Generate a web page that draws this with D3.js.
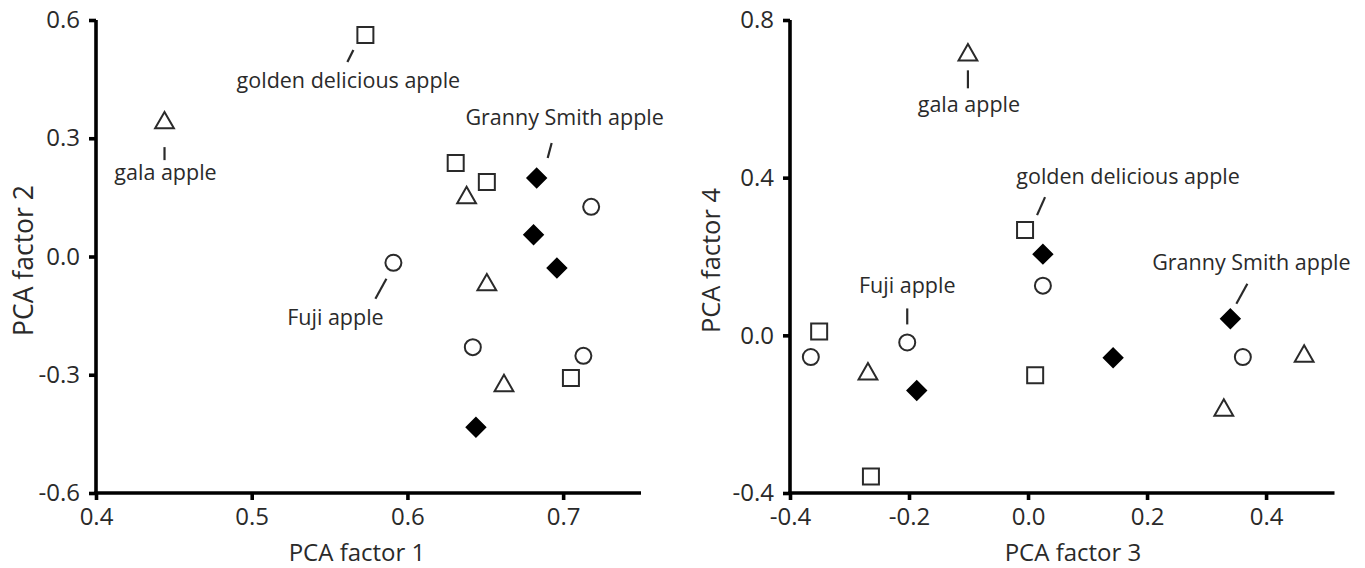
<!DOCTYPE html>
<html>
<head>
<meta charset="utf-8">
<script src="https://cdn.jsdelivr.net/npm/d3@7"></script>
<style>
  html, body { margin: 0; padding: 0; background: #fff; }
  svg { display: block; font-family: "Open Sans", sans-serif; }
  .axis path.domain, .axis .tick line { stroke: #000; stroke-width: 3.6px; }
</style>
</head>
<body>
<svg id="chart" width="1365" height="568"></svg>
<script>
// ---------- data (first point of each variety is the labelled one) ----------
const varieties = ["Fuji apple", "gala apple", "golden delicious apple", "Granny Smith apple"];

// Panel A: PCA factor 1 vs PCA factor 2
const fujiPC1   = [0.591, 0.718, 0.642, 0.713];
const fujiPC2   = [-0.016, 0.126, -0.230, -0.252];
const galaPC1   = [0.444, 0.638, 0.651, 0.662];
const galaPC2   = [0.346, 0.156, -0.065, -0.321];
const goldenPC1 = [0.573, 0.631, 0.651, 0.705];
const goldenPC2 = [0.562, 0.237, 0.189, -0.308];
const grannyPC1 = [0.683, 0.681, 0.696, 0.644];
const grannyPC2 = [0.199, 0.055, -0.029, -0.433];

// Panel B: PCA factor 3 vs PCA factor 4
const fujiPC3   = [-0.203, -0.365, 0.025, 0.361];
const fujiPC4   = [-0.018, -0.055, 0.126, -0.055];
const galaPC3   = [-0.101, -0.269, 0.464, 0.329];
const galaPC4   = [0.718, -0.091, -0.046, -0.183];
const goldenPC3 = [-0.005, -0.351, -0.264, 0.012];
const goldenPC4 = [0.267, 0.010, -0.358, -0.101];
const grannyPC3 = [0.340, 0.025, 0.143, -0.187];
const grannyPC4 = [0.042, 0.206, -0.057, -0.140];

// tick labels
const ticksPC1 = [0.4, 0.5, 0.6, 0.7];
const ticksPC2 = [-0.6, -0.3, 0.0, 0.3, 0.6];
const ticksPC3 = [-0.4, -0.2, 0.0, 0.2, 0.4];
const ticksPC4 = [-0.4, 0.0, 0.4, 0.8];

// ---------- layout / style ----------
const shapeOf = {"Fuji apple": "circle", "gala apple": "triangle",
                 "golden delicious apple": "square", "Granny Smith apple": "diamond"};
const ink = "#2a2a2a";

const panels = [
  {
    xs: [fujiPC1, galaPC1, goldenPC1, grannyPC1],
    ys: [fujiPC2, galaPC2, goldenPC2, grannyPC2],
    xDomain: [0.4, 0.75], xRange: [96, 641],
    yDomain: [-0.6, 0.6], yRange: [493, 20],
    xTicks: ticksPC1, yTicks: ticksPC2,
    xTitle: "PCA factor 1", yTitle: "PCA factor 2",
    xTitleX: 357, yTitleX: 33, yTitleSize: 26.5,
    // label leader offsets relative to labelled point: line (x1,y1,x2,y2), text (tx,ty)
    notes: {
      "Fuji apple":             {l: [-7, 16, -18, 36], t: [-58, 62]},
      "gala apple":             {l: [0, 27, 0, 40],    t: [1, 60]},
      "golden delicious apple": {l: [-12, 15, -18, 27], t: [-17, 53]},
      "Granny Smith apple":     {l: [15, -35, 11, -20], t: [28, -53]}
    }
  },
  {
    xs: [fujiPC3, galaPC3, goldenPC3, grannyPC3],
    ys: [fujiPC4, galaPC4, goldenPC4, grannyPC4],
    xDomain: [-0.4, 0.515], xRange: [790, 1334.5],
    yDomain: [-0.4, 0.8], yRange: [493, 20],
    xTicks: ticksPC3, yTicks: ticksPC4,
    xTitle: "PCA factor 3", yTitle: "PCA factor 4",
    xTitleX: 1073, yTitleX: 720, yTitleSize: 25.5,
    notes: {
      "Fuji apple":             {l: [0, -34, 0, -18],  t: [0, -49]},
      "gala apple":             {l: [0, 18, 0, 36],    t: [1, 60]},
      "golden delicious apple": {l: [20, -33, 12, -15], t: [103, -46]},
      "Granny Smith apple":     {l: [17, -35, 6, -15],  t: [21, -49]}
    }
  }
];

const svg = d3.select("#chart");

function markerPath(shape) {
  const p = d3.path();
  if (shape === "square") {
    const h = 8; p.rect(-h, -h, 2 * h, 2 * h);
  } else if (shape === "circle") {
    p.arc(0, 0, 8, 0, 2 * Math.PI);
  } else if (shape === "triangle") {
    const w = 9.4, ht = 8.2;
    p.moveTo(0, -ht); p.lineTo(w, ht); p.lineTo(-w, ht); p.closePath();
  } else {
    const d = 9.3;
    p.moveTo(0, -d); p.lineTo(d, 0); p.lineTo(0, d); p.lineTo(-d, 0); p.closePath();
  }
  return p.toString();
}

panels.forEach(P => {
  const x = d3.scaleLinear().domain(P.xDomain).range(P.xRange);
  const y = d3.scaleLinear().domain(P.yDomain).range(P.yRange);
  const g = svg.append("g");

  const xAxis = g.append("g").attr("class", "axis")
    .attr("transform", `translate(0,${P.yRange[0]})`)
    .call(d3.axisBottom(x).tickValues(P.xTicks).tickFormat(d => d.toFixed(1))
      .tickSizeInner(7).tickSizeOuter(0).tickPadding(8));
  const yAxis = g.append("g").attr("class", "axis")
    .attr("transform", `translate(${P.xRange[0]},0)`)
    .call(d3.axisLeft(y).tickValues(P.yTicks).tickFormat(d => d.toFixed(1))
      .tickSizeInner(7).tickSizeOuter(0).tickPadding(9));

  // extend domain lines so they meet at the corner
  yAxis.select(".domain").attr("d", `M0,${P.yRange[1]}V${P.yRange[0] + 1.8}`);
  xAxis.select(".domain").attr("d", `M${P.xRange[0] - 1.8},0H${P.xRange[1]}`);

  [xAxis, yAxis].forEach(a => {
    a.selectAll(".tick text").attr("fill", ink)
      .style("font-size", "24px").style("font-family", "'Open Sans', sans-serif");
  });

  // axis titles
  g.append("text").attr("x", P.xTitleX).attr("y", 561)
    .attr("text-anchor", "middle").attr("fill", ink)
    .style("font-size", "24px").text(P.xTitle);
  const ym = (P.yRange[0] + P.yRange[1]) / 2 + 4;
  g.append("text")
    .attr("transform", `translate(${P.yTitleX},${ym}) rotate(-90)`)
    .attr("text-anchor", "middle").attr("fill", ink)
    .style("font-size", P.yTitleSize + "px").text(P.yTitle);

  // points
  varieties.forEach((v, i) => {
    const pts = P.xs[i].map((xv, j) => ({x: xv, y: P.ys[i][j]}));
    const shape = shapeOf[v];
    g.selectAll(null).data(pts).enter().append("path")
      .attr("d", markerPath(shape))
      .attr("transform", d => `translate(${x(d.x)},${y(d.y)})`)
      .attr("fill", shape === "diamond" ? "#000" : "#fff")
      .attr("stroke", shape === "diamond" ? "#000" : ink)
      .attr("stroke-width", 2);

    // annotation for the first point
    const n = P.notes[v];
    const px = x(pts[0].x), py = y(pts[0].y);
    g.append("line")
      .attr("x1", px + n.l[0]).attr("y1", py + n.l[1])
      .attr("x2", px + n.l[2]).attr("y2", py + n.l[3])
      .attr("stroke", ink).attr("stroke-width", 2.2);
    g.append("text")
      .attr("x", px + n.t[0]).attr("y", py + n.t[1])
      .attr("text-anchor", "middle").attr("fill", ink)
      .style("font-size", "21.5px").text(v);
  });
});
</script>
</body>
</html>
